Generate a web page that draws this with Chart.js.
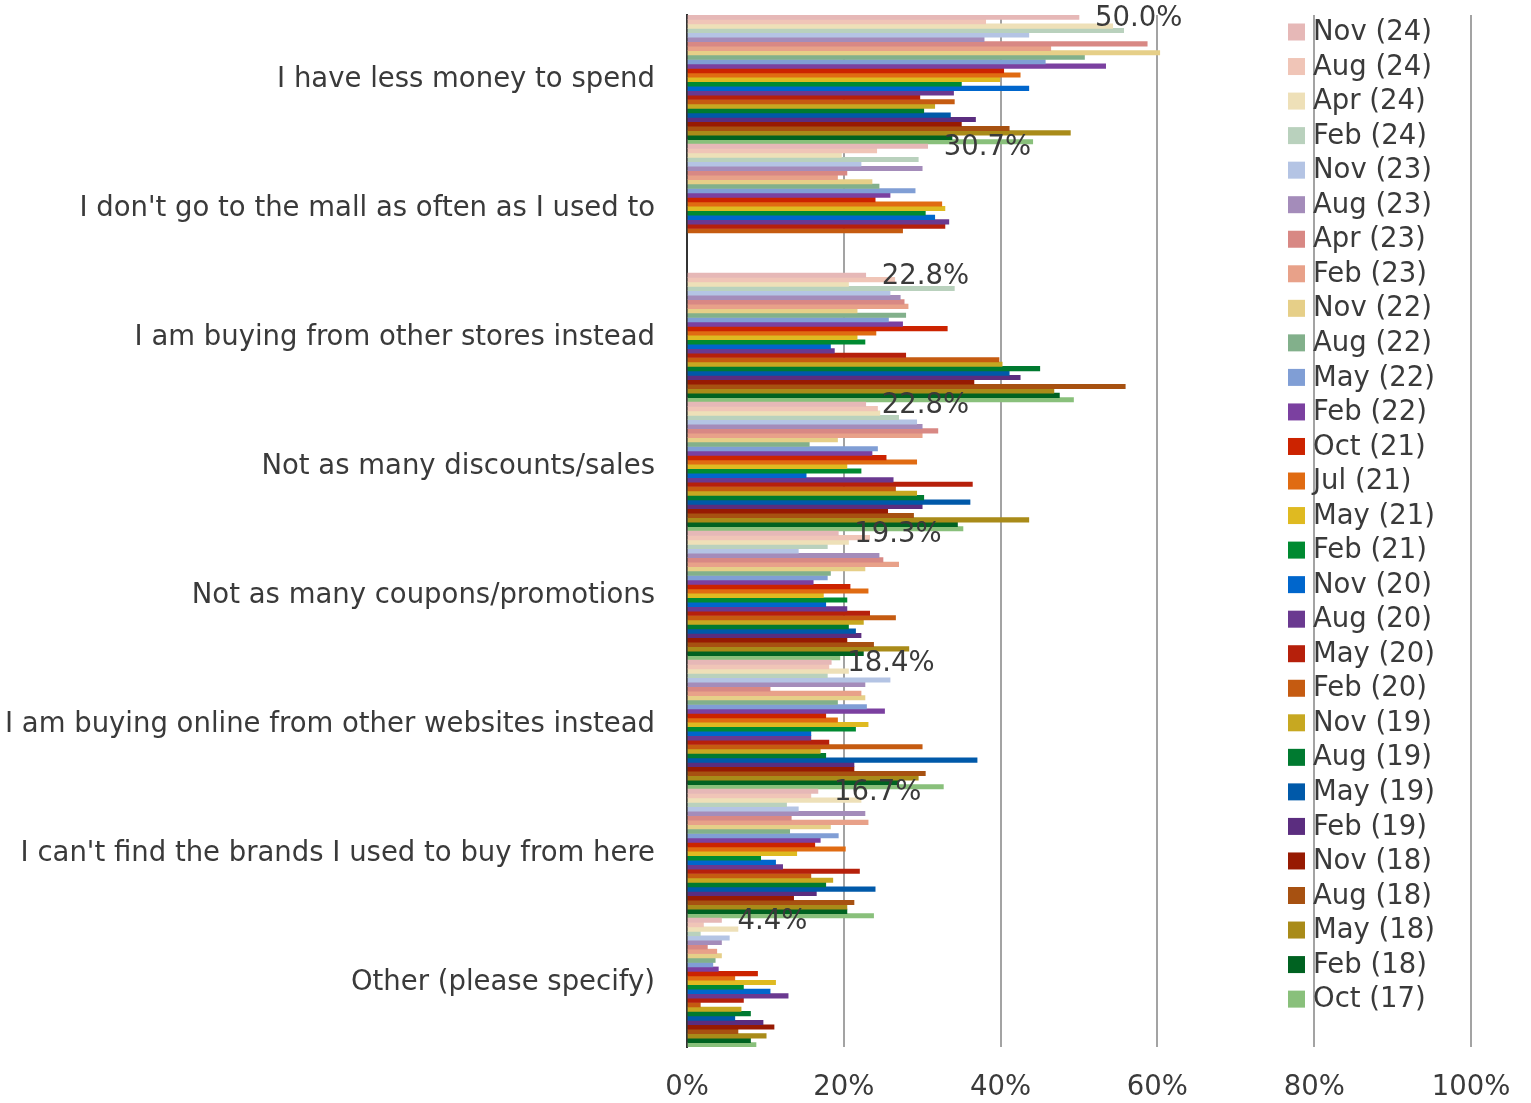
<!DOCTYPE html>
<html>
<head>
<meta charset="utf-8">
<script src="https://cdn.jsdelivr.net/npm/chart.js@4"></script>
<style>
  body { margin: 0; background: #fff; }
  #wrap { position: relative; width: 1531px; height: 1103px; }
</style>
</head>
<body>
<div id="wrap"><canvas id="myChart" width="1531" height="1103"></canvas></div>
<script>
const categories = [
    "I have less money to spend",
    "I don't go to the mall as often as I used to",
    "I am buying from other stores instead",
    "Not as many discounts/sales",
    "Not as many coupons/promotions",
    "I am buying online from other websites instead",
    "I can't find the brands I used to buy from here",
    "Other (please specify)"
];

const seriesLabels = [
    "Nov (24)", "Aug (24)", "Apr (24)", "Feb (24)", "Nov (23)", "Aug (23)", "Apr (23)", "Feb (23)",
    "Nov (22)", "Aug (22)", "May (22)", "Feb (22)", "Oct (21)", "Jul (21)", "May (21)", "Feb (21)",
    "Nov (20)", "Aug (20)", "May (20)", "Feb (20)", "Nov (19)", "Aug (19)", "May (19)", "Feb (19)",
    "Nov (18)", "Aug (18)", "May (18)", "Feb (18)", "Oct (17)"
];

const seriesColors = [
    "#e6b8b7", "#f0c5b7", "#eee0b8", "#b9d1bd", "#b4c4e4", "#a48cba", "#d88884", "#e8a189",
    "#e6cf88", "#82b08b", "#809ed5", "#7b40a0", "#cc2300", "#e06b12", "#dfba21", "#008a31",
    "#0066cc", "#6a3990", "#b6200b", "#c55b11", "#c7a821", "#007a30", "#0059a9", "#5b2d7f",
    "#971a02", "#a75111", "#a98b19", "#006221", "#89c07b"
];

// values in %, one array per category, in series order (Nov 24 first)
const lessMoney = [50.0, 38.1, 54.3, 55.7, 43.6, 37.9, 58.7, 46.4, 60.3, 50.7, 45.7, 53.4, 40.4, 42.5, 39.9,
    35.0, 43.6, 34.0, 29.7, 34.1, 31.6, 30.2, 33.6, 36.8, 35.0, 41.1, 48.9, 33.8, 44.1];
const lessMall = [30.7, 24.2, 19.7, 29.5, 22.2, 30.0, 20.4, 19.2, 23.6, 24.5, 29.1, 25.9, 24.0, 32.5, 32.9,
    30.4, 31.6, 33.4, 32.9, 27.5, null, null, null, null, null, null, null, null, null];
const otherStores = [22.8, 26.5, 20.6, 34.1, 25.9, 27.2, 27.7, 28.2, 21.7, 27.9, 25.7, 27.5, 33.2, 24.1, 21.7,
    22.7, 18.3, 18.8, 27.9, 39.8, 40.2, 45.0, 41.1, 42.5, 36.6, 55.9, 46.8, 47.5, 49.3];
const fewerDiscounts = [22.8, 24.3, 24.6, 27.0, 29.3, 30.0, 32.0, 30.0, 19.2, 15.6, 24.3, 23.6, 25.4, 29.3, 20.4,
    22.2, 15.2, 26.3, 36.4, 26.6, 29.3, 30.2, 36.1, 30.0, 25.6, 28.9, 43.6, 34.5, 35.2];
const fewerCoupons = [19.3, 23.3, 20.6, 17.9, 14.2, 24.5, 25.0, 27.0, 22.7, 18.3, 17.9, 16.1, 20.8, 23.1, 17.4,
    20.4, 17.7, 20.4, 23.3, 26.6, 22.5, 20.6, 21.5, 22.2, 20.4, 23.8, 28.3, 22.5, 19.5];
const onlineElsewhere = [18.4, 18.1, 20.6, 17.9, 25.9, 22.7, 10.6, 22.2, 22.7, 19.2, 22.9, 25.2, 17.7, 19.2, 23.1,
    21.5, 15.8, 15.8, 18.1, 30.0, 17.0, 17.7, 37.0, 21.3, 21.3, 30.4, 29.5, 27.0, 32.7];
const cantFindBrands = [16.7, 15.8, 22.2, 12.7, 14.2, 22.7, 13.3, 23.1, 18.3, 13.1, 19.3, 17.0, 16.3, 20.2, 14.0,
    9.4, 11.3, 12.2, 22.0, 15.8, 18.6, 17.7, 24.0, 16.5, 13.6, 21.3, 20.4, 20.4, 23.8];
const otherReason = [4.4, 2.1, 6.5, 1.7, 5.4, 4.4, 2.6, 3.8, 4.4, 3.6, 3.3, 4.0, 9.0, 6.1, 11.3,
    7.2, 10.6, 12.9, 7.2, 1.7, 6.9, 8.1, 6.1, 9.7, 11.1, 6.5, 10.1, 8.1, 8.8];

const xTicks = [0, 20, 40, 60, 80, 100];

const FONT = "'DejaVu Sans', Verdana, sans-serif";
const FONT_SIZE = 27.5;
const TEXT_COLOR = "#3a3a3a";

function buildDatasets() {
    const byCategory = [lessMoney, lessMall, otherStores, fewerDiscounts,
        fewerCoupons, onlineElsewhere, cantFindBrands, otherReason];
    return seriesLabels.map((label, s) => ({
        label: label,
        data: byCategory.map(row => row[s]),
        backgroundColor: seriesColors[s],
        borderWidth: 0,
        barPercentage: 1.0,
        categoryPercentage: 1.0,
    }));
}

// label for the first series (latest wave), drawn right of its bar
const firstSeriesLabels = {
    id: 'firstSeriesLabels',
    afterDatasetsDraw(chart) {
        const ctx = chart.ctx;
        const meta = chart.getDatasetMeta(0);
        const data = chart.data.datasets[0].data;
        ctx.save();
        ctx.font = FONT_SIZE + "px " + FONT;
        ctx.fillStyle = TEXT_COLOR;
        ctx.textAlign = "left";
        ctx.textBaseline = "middle";
        meta.data.forEach((bar, i) => {
            if (data[i] == null) return;
            ctx.fillText(data[i].toFixed(1) + "%", bar.x + 16, bar.y + 2);
        });
        ctx.restore();
    }
};

// legend laid over the right part of the plot, like the original
const overlayLegend = {
    id: 'overlayLegend',
    afterDraw(chart) {
        const ctx = chart.ctx;
        const x0 = 1288, y0 = 32, step = 34.54, box = 17;
        ctx.save();
        ctx.font = FONT_SIZE + "px " + FONT;
        ctx.textAlign = "left";
        ctx.textBaseline = "middle";
        chart.data.datasets.forEach((ds, i) => {
            const y = y0 + i * step;
            ctx.fillStyle = ds.backgroundColor;
            ctx.fillRect(x0, y - box / 2, box, box);
            ctx.fillStyle = TEXT_COLOR;
            ctx.fillText(ds.label, x0 + 25, y + 1);
        });
        ctx.restore();
    }
};

function drawChart() {
    const ctx = document.getElementById('myChart').getContext('2d');
    return new Chart(ctx, {
        type: 'bar',
        data: {
            labels: categories,
            datasets: buildDatasets()
        },
        options: {
            indexAxis: 'y',
            responsive: false,
            animation: false,
            events: [],
            layout: { padding: { top: 15, right: 60, bottom: 0, left: 0 } },
            plugins: {
                legend: { display: false },
                tooltip: { enabled: false },
                title: { display: false }
            },
            scales: {
                x: {
                    min: 0,
                    max: 100,
                    afterBuildTicks: scale => { scale.ticks = xTicks.map(v => ({ value: v })); },
                    afterFit: scale => {
                        scale.height = 56;
                        scale.paddingLeft = 0;
                        scale.paddingRight = 0;
                    },
                    ticks: {
                        callback: v => v + '%',
                        font: { family: FONT, size: FONT_SIZE },
                        color: TEXT_COLOR,
                        padding: 24,
                        maxRotation: 0
                    },
                    grid: {
                        color: '#a3a3a3',
                        lineWidth: 2,
                        drawTicks: false
                    },
                    border: { display: false }
                },
                y: {
                    afterFit: scale => {
                        scale.width = 687;
                        scale.paddingTop = 0;
                        scale.paddingBottom = 0;
                    },
                    ticks: {
                        font: { family: FONT, size: FONT_SIZE },
                        color: TEXT_COLOR,
                        padding: 32
                    },
                    grid: { display: false, drawTicks: false },
                    border: { display: true, color: '#333333', width: 2 }
                }
            }
        },
        plugins: [firstSeriesLabels, overlayLegend]
    });
}

drawChart();
</script>
</body>
</html>
